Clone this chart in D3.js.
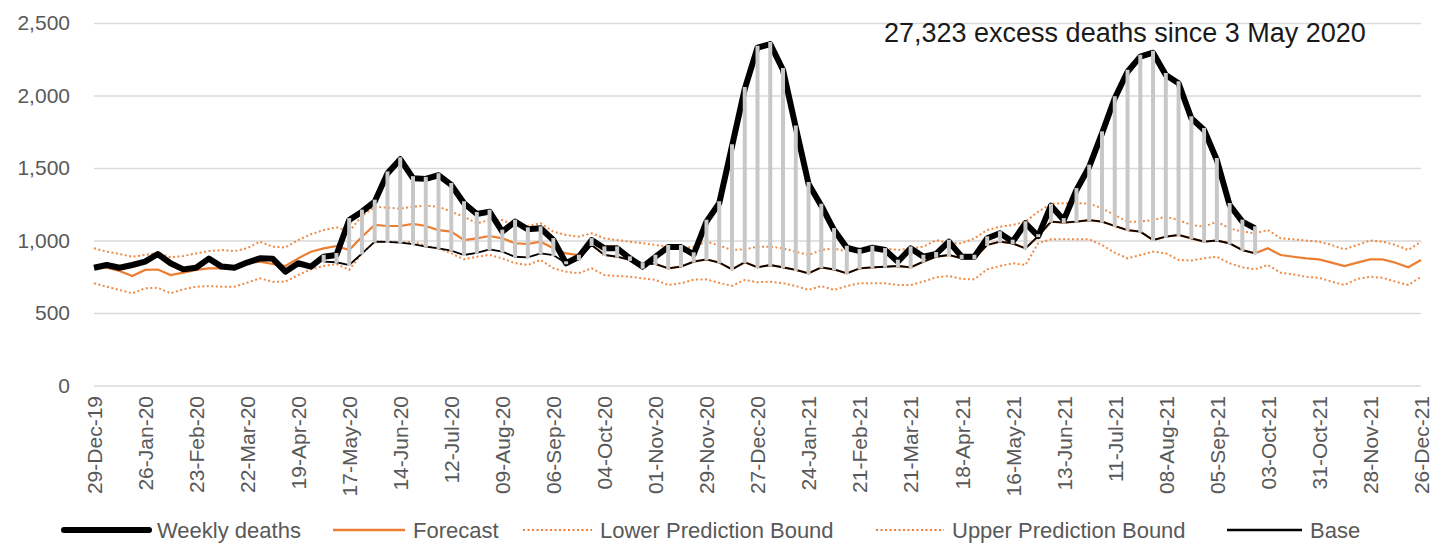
<!DOCTYPE html>
<html>
<head>
<meta charset="utf-8">
<script src="https://cdn.jsdelivr.net/npm/d3@7"></script>
<style>
  body { margin: 0; background: #fff; }
  svg { display: block; font-family: "Liberation Sans", Arial, sans-serif; }
</style>
</head>
<body>
<svg id="chart" width="1435" height="544"></svg>
<script>
// --- DATA (weekly, starting 29-Dec-19) ---
const tickLabels = ["29-Dec-19","26-Jan-20","23-Feb-20","22-Mar-20","19-Apr-20","17-May-20","14-Jun-20",
  "12-Jul-20","09-Aug-20","06-Sep-20","04-Oct-20","01-Nov-20","29-Nov-20","27-Dec-20","24-Jan-21",
  "21-Feb-21","21-Mar-21","18-Apr-21","16-May-21","13-Jun-21","11-Jul-21","08-Aug-21","05-Sep-21",
  "03-Oct-21","31-Oct-21","28-Nov-21","26-Dec-21"];

const weeklyDeaths = [812,831,812,831,854,907,843,801,812,875, 820,812,848,877,875,785,843,820,888,900,
  1141,1199,1268,1463,1560,1430,1425,1450,1383,1257, 1183,1199,1061,1130,1077,1084,1003,843,888,1003,
  946,946,877,819,888,955,955,905,1130,1257, 1650,2045,2330,2355,2176,1780,1390,1240,1072,950,
  927,950,934,854,946,888,907,992,888,888, 1015,1050,992,1119,1030,1240,1141,1348,1509,1739,
  1981,2164,2268,2295,2141,2084,1843,1762,1555,1245, 1130,1084];

const forecast = [824,812,790,755,797,800,762,778,797,808, 808,808,843,854,838,824,877,923,946,962,
  934,1026,1107,1100,1100,1114,1100,1072,1061,1003, 1015,1031,1015,981,976,992,946,911,900,969,
  900,888,866,843,838,808,820,854,870,848, 801,850,815,831,815,797,774,815,800,774,
  808,815,819,824,815,854,888,900,877,877, 969,992,980,946,1030,1130,1123,1130,1141,1130,
  1100,1072,1061,1003,1026,1038,1015,992,1000,980, 934,912,946,900,888,877,870,847,824,847,
  870,870,847,815,866];

const lowerBound = [705,681,659,636,670,674,636,663,681,686, 681,681,709,739,716,716,762,801,824,838,
  797,912,992,992,985,992,965,946,911,870, 888,900,877,843,831,866,808,785,774,808,
  762,755,751,739,728,693,705,730,732,708, 687,728,712,716,705,686,659,686,659,686,
  705,705,705,693,693,716,746,755,735,732, 801,824,843,831,981,1008,1008,1008,1008,969,
  916,877,900,923,912,866,862,877,888,843, 815,801,831,778,766,750,743,716,693,735,
  750,743,716,693,750];

const upperBound = [946,923,907,888,900,915,884,893,911,927, 934,927,946,992,957,952,1003,1043,1072,1091,
  1062,1170,1233,1226,1220,1233,1240,1233,1199,1164, 1119,1141,1141,1107,1100,1119,1061,1038,1026,1050,
  1015,1003,992,981,969,957,946,957,992,965, 935,939,957,957,946,923,900,934,946,923,
  946,957,946,934,946,957,1003,981,981,1015, 1072,1095,1107,1130,1199,1252,1257,1257,1255,1222,
  1176,1130,1130,1141,1164,1141,1107,1095,1130,1084, 1061,1050,1072,1015,1008,1000,992,969,939,969,
  1000,992,969,934,992];

// base starts at 3 May 2020 (week 18)
const base = [null,null,null,null,null,null,null,null,null,null, null,null,null,null,null,null,null,null,855,850,
  831,910,992,990,985,975,957,946,930,900, 915,939,923,888,884,911,900,843,870,969,
  900,888,866,843,838,808,820,854,870,848, 801,850,815,831,815,797,774,815,800,774,
  808,815,819,824,815,854,888,900,877,877, 969,992,980,946,1030,1130,1123,1130,1141,1130,
  1100,1072,1061,1003,1026,1038,1015,992,1000,980, 934,912];

const yTicks = [0, 500, 1000, 1500, 2000, 2500];
const annotation = "27,323 excess deaths since 3 May 2020";

// --- SETUP ---
const svg = d3.select("#chart");
const orange = "#ED7D31";
const textGrey = "#595959";

const x = d3.scaleLinear().domain([0, tickLabels.length * 4 - 4]).range([94, 1421]);
const y = d3.scaleLinear().domain([0, 2500]).range([385.5, 23]);

// gridlines + y labels
const yAxis = svg.append("g")
    .attr("transform", "translate(94,0)")
    .call(d3.axisLeft(y).tickValues(yTicks).tickFormat(d3.format(",")).tickSize(-1327).tickPadding(24));
yAxis.select(".domain").remove();
yAxis.selectAll(".tick line").attr("stroke", "#d9d9d9").attr("stroke-width", 1.5);
yAxis.selectAll(".tick text").attr("fill", textGrey).style("font-size", "21px");

// x labels (rotated, reading upwards)
const xAxis = svg.append("g")
    .attr("transform", "translate(0,386)")
    .call(d3.axisBottom(x).tickValues(d3.range(0, tickLabels.length * 4, 4))
        .tickFormat((d, i) => tickLabels[i]).tickSize(0));
xAxis.select(".domain").remove();
xAxis.selectAll(".tick text")
    .attr("fill", textGrey)
    .style("font-size", "21px")
    .attr("text-anchor", "end")
    .attr("transform", "rotate(-90)")
    .attr("x", -10)
    .attr("y", 0)
    .attr("dy", "0.35em");

// --- LINES ---
const line = d3.line()
    .defined(d => d != null)
    .x((d, i) => x(i))
    .y(d => y(d));

svg.append("path").datum(lowerBound).attr("d", line)
    .attr("fill", "none").attr("stroke", orange).attr("stroke-width", 2)
    .attr("stroke-dasharray", "2,2.5").attr("opacity", 0.9);
svg.append("path").datum(upperBound).attr("d", line)
    .attr("fill", "none").attr("stroke", orange).attr("stroke-width", 2)
    .attr("stroke-dasharray", "2,2.5").attr("opacity", 0.9);
svg.append("path").datum(forecast).attr("d", line)
    .attr("fill", "none").attr("stroke", orange).attr("stroke-width", 2.2);
svg.append("path").datum(weeklyDeaths).attr("d", line)
    .attr("fill", "none").attr("stroke", "#000").attr("stroke-width", 6)
    .attr("stroke-linejoin", "round");
svg.append("path").datum(base).attr("d", line)
    .attr("fill", "none").attr("stroke", "#000").attr("stroke-width", 1.8);

// excess-death bars (base -> weekly), drawn on top
const excessIdx = d3.range(weeklyDeaths.length).filter(i => base[i] != null);
svg.append("g").selectAll("line")
    .data(excessIdx)
    .join("line")
    .attr("x1", i => x(i)).attr("x2", i => x(i))
    .attr("y1", i => y(base[i]) + (base[i] <= weeklyDeaths[i] ? 1 : -1))
    .attr("y2", i => y(weeklyDeaths[i]) + (base[i] <= weeklyDeaths[i] ? -2 : 2))
    .attr("stroke", "#c8c8c8")
    .attr("stroke-width", 4);

// annotation
svg.append("text")
    .attr("x", 884).attr("y", 42)
    .attr("fill", "#1a1a1a")
    .style("font-size", "27px")
    .text(annotation);

// --- LEGEND ---
const legendItems = [
  { label: "Weekly deaths", x0: 64, x1: 149, color: "#000", width: 6, dash: null },
  { label: "Forecast", x0: 333, x1: 405, color: orange, width: 2.5, dash: null },
  { label: "Lower Prediction Bound", x0: 523, x1: 592, color: orange, width: 2, dash: "2,2.5" },
  { label: "Upper Prediction Bound", x0: 876, x1: 944, color: orange, width: 2, dash: "2,2.5" },
  { label: "Base", x0: 1227, x1: 1302, color: "#000", width: 2.5, dash: null }
];
const legend = svg.append("g").attr("transform", "translate(0,530)");
const li = legend.selectAll("g").data(legendItems).join("g");
li.append("line")
    .attr("x1", d => d.x0).attr("x2", d => d.x1)
    .attr("stroke", d => d.color).attr("stroke-width", d => d.width)
    .attr("stroke-dasharray", d => d.dash)
    .attr("stroke-linecap", d => d.width > 5 ? "round" : "butt");
li.append("text")
    .attr("x", d => d.x1 + 8).attr("dy", "0.35em")
    .attr("fill", textGrey).style("font-size", "22px")
    .text(d => d.label);
</script>
</body>
</html>
